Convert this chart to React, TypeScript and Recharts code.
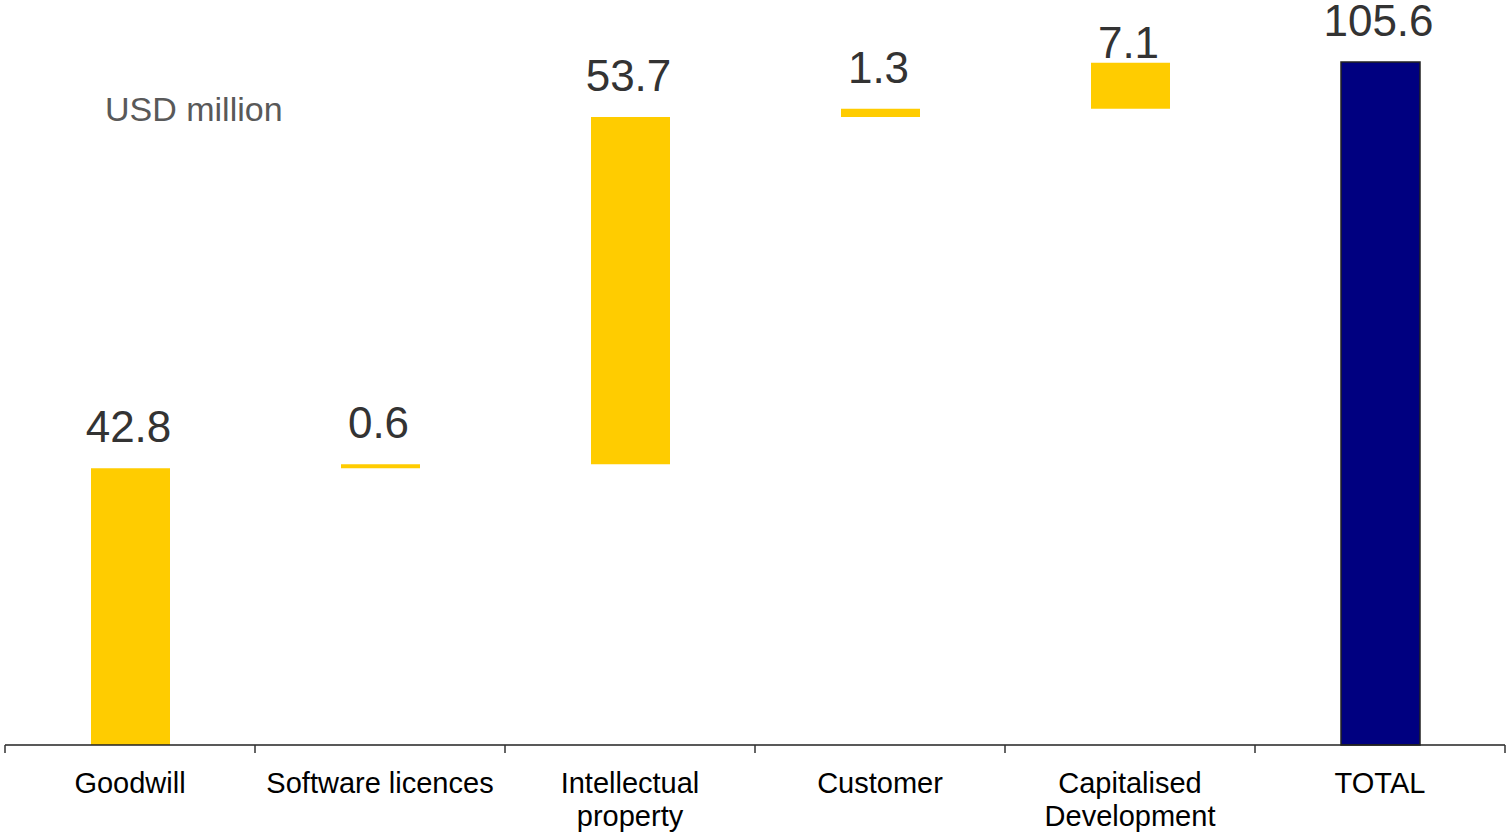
import React from 'react';
import { BarChart, Bar, XAxis, YAxis, Cell, LabelList } from 'recharts';

const categories = [
  'Goodwill',
  'Software licences',
  'Intellectual\nproperty',
  'Customer',
  'Capitalised\nDevelopment',
  'TOTAL',
];
const values = [42.8, 0.6, 53.7, 1.3, 7.1, 105.6];
const isTotal = [false, false, false, false, false, true];

const WIDTH = 1507;
const HEIGHT = 837;
const AXIS_H = 30;
const MARGIN = { top: 0, right: 2, left: 5, bottom: 92 - AXIS_H };
const AXIS_Y = HEIGHT - 92;
const BAND = (WIDTH - MARGIN.left - MARGIN.right) / categories.length;

const YELLOW = '#ffcc00';
const NAVY = '#000080';
const FONT = '"Liberation Sans", Arial, sans-serif';

// running total gives the invisible base of each floating bar
let running = 0;
const data = categories.map((name, i) => {
  const base = isTotal[i] ? 0 : running;
  if (!isTotal[i]) running += values[i];
  return { name, base, value: values[i] };
});

const CategoryTick = (props: any) => {
  const { x, payload, index } = props;
  const lines = String(payload.value).split('\n');
  return (
    <g>
      <line x1={x - BAND / 2} x2={x - BAND / 2} y1={AXIS_Y} y2={AXIS_Y + 8} stroke="#333" strokeWidth={1.5} />
      {index === categories.length - 1 && (
        <line x1={x + BAND / 2} x2={x + BAND / 2} y1={AXIS_Y} y2={AXIS_Y + 8} stroke="#333" strokeWidth={1.5} />
      )}
      <text x={x} y={AXIS_Y + 48} textAnchor="middle" fontSize={29} fontFamily={FONT} fill="#000">
        {lines.map((l, i) => (
          <tspan key={i} x={x} dy={i === 0 ? 0 : 33}>
            {l}
          </tspan>
        ))}
      </text>
    </g>
  );
};

const ValueLabel = (props: any) => {
  const { x, y, width, value, index } = props;
  // the capitalised development label sits tucked down near its bar
  const lift = index === 4 ? 5 : 26;
  return (
    <text
      x={x + width / 2 - 2}
      y={y - lift}
      textAnchor="middle"
      fontSize={44}
      fontFamily={FONT}
      fill="#333333"
    >
      {Number(value).toFixed(1)}
    </text>
  );
};

const App = () => {
  return (
    <div style={{ position: 'absolute', left: 0, top: 0, width: WIDTH, height: HEIGHT, background: '#fff' }}>
      <div
        style={{
          position: 'absolute',
          left: 105,
          top: 92,
          fontSize: 34,
          fontFamily: FONT,
          color: '#595959',
          lineHeight: 1,
        }}
      >
        USD million
      </div>
      <BarChart width={WIDTH} height={HEIGHT} data={data} margin={MARGIN} barSize={79}>
        <XAxis
          dataKey="name"
          interval={0}
          height={AXIS_H}
          tickLine={false}
          axisLine={{ stroke: '#222', strokeWidth: 1.5 }}
          tick={<CategoryTick />}
        />
        <YAxis hide domain={[0, 115.2]} />
        <Bar dataKey="base" stackId="w" fill="transparent" isAnimationActive={false} />
        <Bar dataKey="value" stackId="w" isAnimationActive={false}>
          {data.map((d, i) => (
            <Cell
              key={d.name}
              fill={isTotal[i] ? NAVY : YELLOW}
              stroke={isTotal[i] ? '#222' : 'none'}
              strokeWidth={isTotal[i] ? 1.5 : 0}
            />
          ))}
          <LabelList dataKey="value" content={<ValueLabel />} />
        </Bar>
      </BarChart>
    </div>
  );
};

export default App;
